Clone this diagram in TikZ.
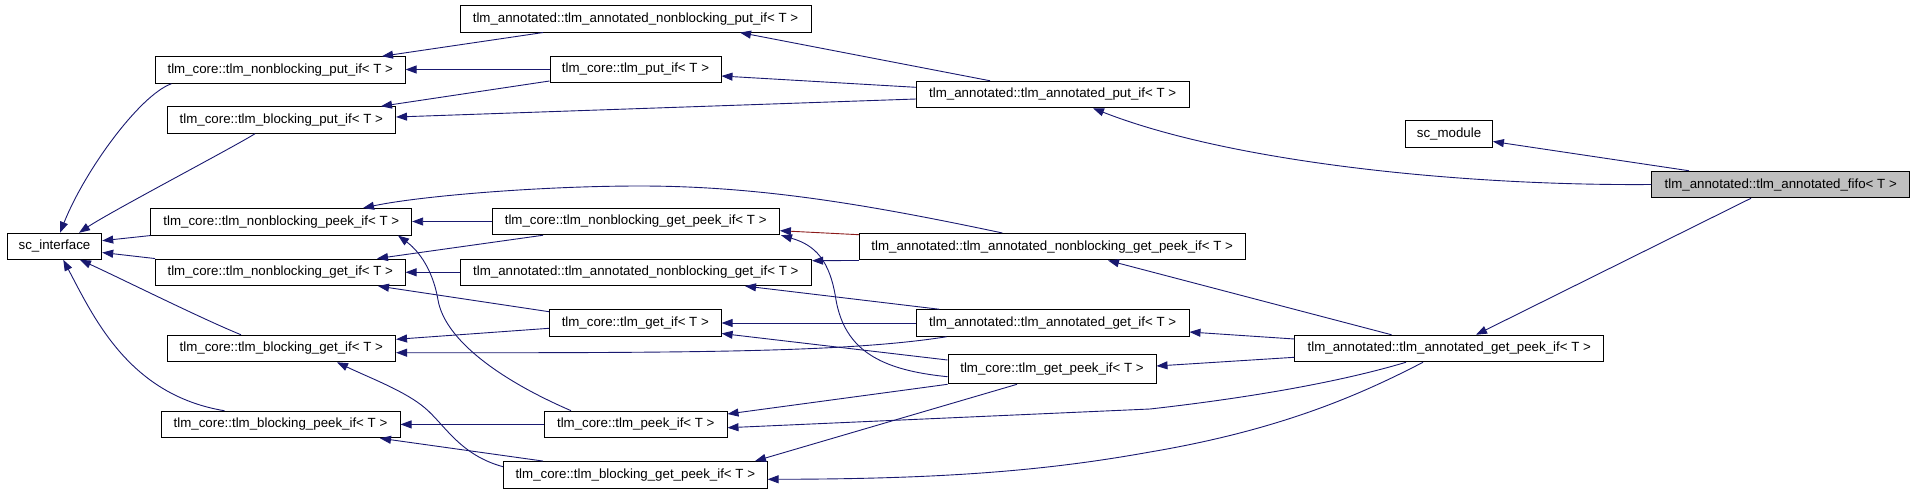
\documentclass[tikz,border=0pt]{standalone}
\usepackage{fontspec}
\setmainfont{Liberation Sans}
\usetikzlibrary{arrows.meta}
\definecolor{edgeblue}{HTML}{191970}
\definecolor{edgered}{HTML}{8B1A1A}
\definecolor{fifogray}{HTML}{BFBFBF}
\begin{document}
\begin{tikzpicture}[x=1pt,y=-1pt,
  cls/.style={draw=black, line width=1pt, fill=white, minimum height=26.5pt, inner sep=0pt,
    font=\fontsize{13.3}{16}\selectfont, anchor=center},
  inh/.style={draw=edgeblue, line width=0.9pt, -{Triangle[length=11pt,width=8pt]}},
  inhred/.style={draw=edgered, line width=0.9pt, -{Triangle[length=11pt,width=8pt,color=edgeblue]}}]
\useasboundingbox (0,0) rectangle (1915,493);
% nodes
\node[cls, minimum width=94.4pt, minimum height=26pt] (sci) at (54.5,246.3) {sc\_interface};
\node[cls, minimum width=249.5pt] (nbput) at (280.3,70) {tlm\_core::tlm\_nonblocking\_put\_if< T >};
\node[cls, minimum width=228.5pt] (bput) at (281.3,120) {tlm\_core::tlm\_blocking\_put\_if< T >};
\node[cls, minimum width=260.7pt] (nbpeek) at (281.3,221.8) {tlm\_core::tlm\_nonblocking\_peek\_if< T >};
\node[cls, minimum width=249.5pt] (nbget) at (280.3,272.3) {tlm\_core::tlm\_nonblocking\_get\_if< T >};
\node[cls, minimum width=228.5pt] (bget) at (281.3,348.5) {tlm\_core::tlm\_blocking\_get\_if< T >};
\node[cls, minimum width=239pt] (bpeek) at (280.5,424.5) {tlm\_core::tlm\_blocking\_peek\_if< T >};
\node[cls, minimum width=351pt] (annnbput) at (635.5,18.8) {tlm\_annotated::tlm\_annotated\_nonblocking\_put\_if< T >};
\node[cls, minimum width=171pt] (putif) at (635.5,69.5) {tlm\_core::tlm\_put\_if< T >};
\node[cls, minimum width=287.4pt] (nbgetpeek) at (635.7,221.5) {tlm\_core::tlm\_nonblocking\_get\_peek\_if< T >};
\node[cls, minimum width=351.6pt] (annnbget) at (635.8,272.3) {tlm\_annotated::tlm\_annotated\_nonblocking\_get\_if< T >};
\node[cls, minimum width=171.6pt] (getif) at (635.3,323) {tlm\_core::tlm\_get\_if< T >};
\node[cls, minimum width=182.4pt] (peekif) at (635.8,424.4) {tlm\_core::tlm\_peek\_if< T >};
\node[cls, minimum width=263.6pt] (bgetpeek) at (635.3,474.8) {tlm\_core::tlm\_blocking\_get\_peek\_if< T >};
\node[cls, minimum width=272.6pt] (annput) at (1052.7,94.5) {tlm\_annotated::tlm\_annotated\_put\_if< T >};
\node[cls, minimum width=385.8pt] (annnbgetpeek) at (1052.2,246.7) {tlm\_annotated::tlm\_annotated\_nonblocking\_get\_peek\_if< T >};
\node[cls, minimum width=272.6pt] (annget) at (1052.7,323) {tlm\_annotated::tlm\_annotated\_get\_if< T >};
\node[cls, minimum width=208pt, minimum height=29pt] (getpeek) at (1052,369.3) {tlm\_core::tlm\_get\_peek\_if< T >};
\node[cls, minimum width=86.8pt] (scmodule) at (1449,134) {sc\_module};
\node[cls, minimum width=308.7pt] (anngetpeek) at (1449.3,348.5) {tlm\_annotated::tlm\_annotated\_get\_peek\_if< T >};
\node[cls, minimum width=257.5pt, fill=fifogray] (fifo) at (1780.7,184.5) {tlm\_annotated::tlm\_annotated\_fifo< T >};
% edges (derived -> base)
\draw[inh] (543,0 |- annnbput.south) -- (382,0 |- nbput.north);
\draw[inh] (putif.west) -- (nbput.east |- putif.west);
\draw[inh] (putif.west |- 0,81) -- (381,0 |- bput.north);
\draw[inh] (990,0 |- annput.north) -- (740,0 |- annnbput.south);
\draw[inh] (annput.west |- 0,87.3) -- (putif.east |- 0,76);
\draw[inh] (annput.west |- 0,99) -- (bput.east |- 0,117);
\draw[inh] (171.4,0 |- nbput.south) .. controls (140,95) and (85,170) .. (60,0 |- sci.north);
\draw[inh] (255,0 |- bput.south) .. controls (232,148) and (110,212) .. (79,0 |- sci.north);
\draw[inh] (nbpeek.south west) -- (sci.east |- 0,240.7);
\draw[inh] (nbget.north west) -- (sci.east |- 0,252.5);
\draw[inh] (241,0 |- bget.north) .. controls (200,318) and (120,278) .. (80,0 |- sci.south);
\draw[inh] (224.5,0 |- bpeek.north) .. controls (130,395) and (95,320) .. (63.3,0 |- sci.south);
\draw[inh] (nbgetpeek.west) -- (nbpeek.east |- nbgetpeek.west);
\draw[inh] (543,0 |- nbgetpeek.south) -- (377,0 |- nbget.north);
\draw[inh] (1002.3,0 |- annnbgetpeek.north) .. controls (870,205) and (760,186) .. (640,186)
  .. controls (540,186) and (420,196) .. (363,0 |- nbpeek.north);
\draw[inhred] (annnbgetpeek.west |- 0,234.7) -- (nbgetpeek.east |- 0,230.7);
\draw[inh] (annnbgetpeek.south west) -- (annnbget.east |- 0,260.7);
\draw[inh] (annnbget.west) -- (nbget.east |- annnbget.west);
\draw[inh] (getif.west |- 0,311.7) -- (378,0 |- nbget.south);
\draw[inh] (getif.west |- 0,328.3) -- (bget.east |- 0,339.3);
\draw[inh] (946.5,0 |- annget.south) .. controls (850,352) and (700,353) .. (bget.east |- 0,352.7);
\draw[inh] (annget.west) -- (getif.east |- annget.west);
\draw[inh] (939.3,0 |- annget.north) -- (745,0 |- annnbget.south);
\draw[inh] (getpeek.west |- 0,360) -- (getif.east |- 0,333.5);
\draw[inh] (getpeek.south west) -- (peekif.east |- 0,414);
\draw[inh] (getpeek.west |- 0,376.7) .. controls (880,370) and (845,350) .. (836,300)
  .. controls (830,260) and (815,245) .. (781,0 |- nbgetpeek.south);
\draw[inh] (1017,0 |- getpeek.south) -- (755,0 |- bgetpeek.north);
\draw[inh] (571,0 |- peekif.north) .. controls (500,380) and (445,340) .. (438,300)
  .. controls (432,265) and (415,248) .. (398,0 |- nbpeek.south);
\draw[inh] (peekif.west) -- (bpeek.east |- peekif.west);
\draw[inh] (543,0 |- bgetpeek.north) -- (380,0 |- bpeek.south);
\draw[inh] (bgetpeek.west |- 0,466.7) .. controls (460,455) and (445,425) .. (425,408)
  .. controls (405,391) and (370,378) .. (337,0 |- bget.south);
\draw[inh] (1391.5,0 |- anngetpeek.north) -- (1108,0 |- annnbgetpeek.south);
\draw[inh] (anngetpeek.west |- 0,339) -- (annget.east |- 0,332);
\draw[inh] (anngetpeek.west |- 0,357.3) -- (getpeek.east |- 0,366);
\draw[inh] (1406,0 |- anngetpeek.south) .. controls (1330,385) and (1230,400) .. (1150,409)
  -- (peekif.east |- 0,427.7);
\draw[inh] (1423,0 |- anngetpeek.south) .. controls (1360,395) and (1280,430) .. (1150,452)
  .. controls (1050,470) and (950,479) .. (bgetpeek.east |- 0,479.3);
\draw[inh] (fifo.west) .. controls (1460,186) and (1230,162) .. (1093,0 |- annput.south);
\draw[inh] (1689,0 |- fifo.north) -- (scmodule.east |- 0,141.5);
\draw[inh] (1751,0 |- fifo.south) -- (1476,0 |- anngetpeek.north);
\end{tikzpicture}
\end{document}
